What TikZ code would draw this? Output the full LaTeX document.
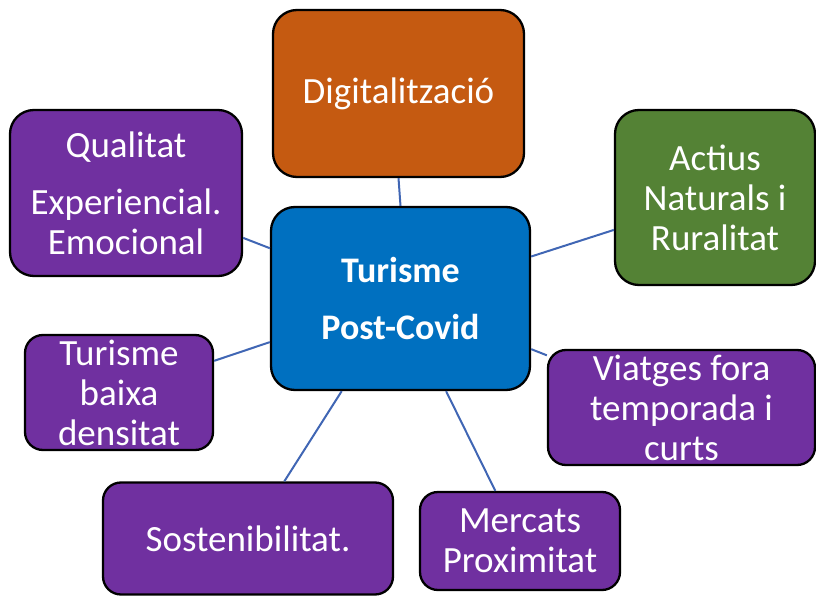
\documentclass[tikz,border=0pt]{standalone}
\usepackage{fontspec}
\setmainfont{Carlito}
\definecolor{cOrange}{HTML}{C55A11}
\definecolor{cPurple}{HTML}{7030A0}
\definecolor{cGreen}{HTML}{548235}
\definecolor{cBlue}{HTML}{0070C0}
\definecolor{cLine}{HTML}{4066B4}
\begin{document}
\begin{tikzpicture}[x=1pt,y=-1pt,
  box/.style={draw=black, line width=2.3pt, rounded corners=24pt, inner sep=0pt},
  smallbox/.style={box, rounded corners=18pt},
  txt/.style={text=white, align=center, font=\fontsize{37}{40}\selectfont, inner sep=0pt},
  conn/.style={draw=cLine, line width=2pt}]
\useasboundingbox (0,0) rectangle (816,596);

% boxes
\node[box, fill=cOrange, minimum width=251pt, minimum height=167pt] (dig) at (398.5,93.5) {};
\node[box, fill=cPurple, minimum width=232pt, minimum height=166pt] (qual) at (126,193) {};
\node[box, fill=cGreen, minimum width=200pt, minimum height=175pt] (act) at (715,197.5) {};
\node[box, fill=cBlue, minimum width=259pt, minimum height=183pt] (tur) at (400.5,298.5) {};
\node[smallbox, fill=cPurple, minimum width=188pt, minimum height=115pt] (baixa) at (119,392.5) {};
\node[smallbox, fill=cPurple, minimum width=267pt, minimum height=115pt] (viat) at (681.5,407.5) {};
\node[smallbox, fill=cPurple, minimum width=290pt, minimum height=112pt] (sost) at (248,538.5) {};
\node[smallbox, fill=cPurple, minimum width=200pt, minimum height=98pt] (merc) at (520,541) {};

% texts
\node[txt] (tdig) at (dig) {Digitalització};
\node[txt] (tqual) at (qual) {Qualitat\\[17pt]Experiencial.\\Emocional};
\node[txt] (tact) at (act) {Actius\\Naturals i\\Ruralitat};
\node[txt, font=\fontsize{36}{40}\selectfont\bfseries] (ttur) at (tur) {Turisme\\[17pt]Post-Covid};
\node[txt] (tbaixa) at (baixa) {Turisme\\baixa\\densitat};
\node[txt] (tviat) at (viat) {Viatges fora\\temporada i\\curts};
\node[txt] (tsost) at (sost) {Sostenibilitat.};
\node[txt] (tmerc) at (merc) {Mercats\\Proximitat};

% connectors
\draw[conn] (tur.north) -- (dig.south);
\draw[conn] (tur) -- (qual);
\draw[conn] (tur) -- (act);
\draw[conn] (tur) -- (baixa);
\draw[conn] (tur) -- (viat);
\draw[conn] (tur) -- (sost);
\draw[conn] (tur) -- (merc);
\end{tikzpicture}
\end{document}
